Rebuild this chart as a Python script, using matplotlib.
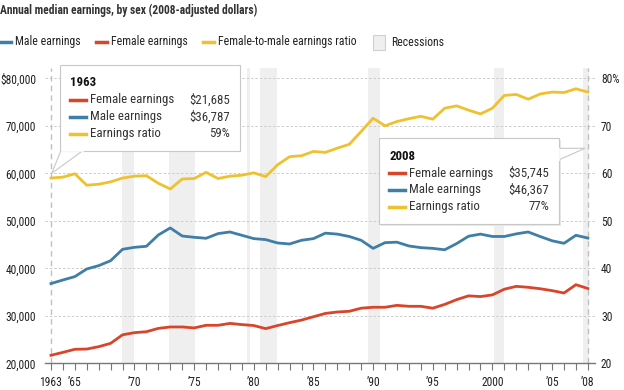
import matplotlib
matplotlib.use("Agg")
import matplotlib.pyplot as plt
from matplotlib import font_manager
from matplotlib.patches import Rectangle, Polygon
from matplotlib.lines import Line2D

years = list(range(1963, 2009))
female = [21685, 22300, 22950, 23000, 23500, 24200, 26000, 26450, 26650, 27350,
          27650, 27650, 27450, 28000, 28000, 28400, 28150, 27950, 27300, 27950,
          28550, 29100, 29800, 30500, 30800, 30950, 31600, 31800, 31800, 32200,
          32000, 32000, 31600, 32400, 33400, 34200, 34050, 34400, 35600, 36200,
          36000, 35700, 35300, 34800, 36550, 35745]
male = [36787, 37540, 38250, 39860, 40560, 41600, 44000, 44420, 44630, 47020,
        48500, 46800, 46530, 46320, 47300, 47650, 46950, 46250, 46040, 45330,
        45120, 45900, 46250, 47400, 47200, 46700, 45900, 44200, 45400, 45500,
        44700, 44350, 44200, 43900, 45200, 46750, 47200, 46700, 46700, 47250,
        47650, 46700, 45800, 45260, 46950, 46367]
ratio = [59.0, 59.2, 59.9, 57.5, 57.7, 58.2, 59.0, 59.4, 59.5, 57.9,
         56.7, 58.8, 58.9, 60.2, 58.9, 59.4, 59.6, 60.1, 59.3, 61.8,
         63.5, 63.7, 64.6, 64.4, 65.3, 66.1, 68.8, 71.6, 70.0, 70.9,
         71.5, 72.0, 71.4, 73.7, 74.2, 73.3, 72.5, 73.7, 76.4, 76.6,
         75.6, 76.7, 77.1, 77.0, 77.8, 77.1]
recessions = [(1968.95, 1969.93), (1972.89, 1975.05), (1979.43, 1979.68),
              (1980.52, 1981.92), (1989.6, 1990.55), (2000.13, 2000.97),
              (2007.57, 2008.12)]
left_ticks = [20000, 30000, 40000, 50000, 60000, 70000, 80000]
left_labels = ["20,000", "30,000", "40,000", "50,000", "60,000", "70,000", "$80,000"]
right_ticks = [20, 30, 40, 50, 60, 70, 80]
right_labels = ["20", "30", "40", "50", "60", "70", "80%"]
xtick_years = [1963, 1965, 1970, 1975, 1980, 1985, 1990, 1995, 2000, 2005, 2008]
xtick_labels = ["1963", "\u201965", "\u201970", "\u201975", "\u201980", "\u201985",
                "\u201990", "\u201995", "2000", "\u201905", "\u201908"]

BLUE = "#3f7ea6"
RED = "#d8452b"
YELLOW = "#efc12f"
GREY_BAND = "#efefef"
TXT = "#222222"

names = {f.name for f in font_manager.fontManager.ttflist}
narrow = "Liberation Sans"
for cand in ["Liberation Sans Narrow", "Roboto Condensed", "Archivo Narrow",
             "IBM Plex Sans Condensed", "Fira Sans Condensed"]:
    if cand in names:
        narrow = cand
        break
plt.rcParams["font.family"] = [narrow, "DejaVu Sans"]

W, H = 624, 390
fig = plt.figure(figsize=(W / 100, H / 100), dpi=100)
renderer = fig.canvas.get_renderer()


def fit(s, target, weight="normal"):
    # font size that makes text s about target pixels wide
    t = fig.text(0, 0, s, fontsize=10, fontweight=weight)
    w = t.get_window_extent(renderer).width
    t.remove()
    return 10 * target / w


fs_title = fit("Annual median earnings, by sex (2008-adjusted dollars)", 259, "bold")
fs_leg = fit("Male earnings", 65)
fs_tip = fit("Female earnings", 83)
fs_tick = fit("$80,000", 36)


def px(x, y):
    return (x / W, 1 - y / H)


ax_l, ax_r, ax_t, ax_b = 45, 595, 68, 363.3
ax = fig.add_axes([ax_l / W, 1 - ax_b / H, (ax_r - ax_l) / W, (ax_b - ax_t) / H])
ax.set_xlim(1962.5, 2008.6)
ax.set_ylim(20000, 82170)
ax2 = ax.twinx()
ax2.set_ylim(20, 82.17)

for s, e in recessions:
    ax.axvspan(s, e, color=GREY_BAND, lw=0, zorder=0)

for t in left_ticks[1:]:
    ax.axhline(t, color="#cccccc", lw=0.7, ls=(0, (2.5, 2)), zorder=1)

ax.axvline(years[0], color="#c0c0c0", lw=1, ls=(0, (4, 3)), zorder=1)
ax.axvline(years[-1], color="#c0c0c0", lw=1, ls=(0, (4, 3)), zorder=1)

ax.plot(years, female, color=RED, lw=2, zorder=3)
ax.plot(years, male, color=BLUE, lw=2, zorder=3)
ax2.plot(years, ratio, color=YELLOW, lw=2, zorder=3)

for a in (ax, ax2):
    for sp in a.spines.values():
        sp.set_visible(False)
ax.spines["bottom"].set_visible(True)
ax.spines["bottom"].set_color("#777777")
ax.spines["bottom"].set_linewidth(1)

ax.set_xticks(years, minor=True)
ax.set_xticks(xtick_years)
ax.set_xticklabels(xtick_labels)
ax.tick_params(axis="x", which="both", direction="out", length=5, width=0.8,
               color="#777777", pad=4, labelsize=fs_tick, labelcolor=TXT)
ax.set_yticks(left_ticks)
ax.set_yticklabels(left_labels)
ax.tick_params(axis="y", length=0, pad=6.5, labelsize=fs_tick, labelcolor=TXT)
ax2.set_yticks(right_ticks)
ax2.set_yticklabels(right_labels)
ax2.tick_params(axis="y", length=0, pad=4.3, labelsize=fs_tick, labelcolor=TXT)

# title
fig.text(*px(0, 10), "Annual median earnings, by sex (2008-adjusted dollars)",
         fontsize=fs_title, fontweight="bold", color="#333333", va="center", ha="left")

# legend
ly = 42
leg_items = [(0, BLUE, "Male earnings"), (96, RED, "Female earnings"),
             (203, YELLOW, "Female-to-male earnings ratio")]
for x0, c, lab in leg_items:
    fig.add_artist(Line2D([x0 / W, (x0 + 11) / W], [1 - ly / H] * 2, color=c, lw=2.5))
    fig.text(*px(x0 + 15, ly), lab, fontsize=fs_leg, color=TXT, va="center", ha="left")
fig.add_artist(Rectangle(px(373, 50), 12 / W, 15 / H, facecolor=GREY_BAND,
                         edgecolor="#d0d0d0", lw=0.8))
fig.text(*px(391, ly), "Recessions", fontsize=fs_leg, color=TXT, va="center", ha="left")


def tooltip(x0, y0, x1, y1, tail, year, rows):
    fig.add_artist(Rectangle(px(x0 + 1.5, y1 + 1.5), (x1 - x0) / W, (y1 - y0) / H,
                             facecolor="#e8e8e8", edgecolor="none", zorder=9))
    fig.add_artist(Polygon([px(*p) for p in tail], closed=True, facecolor="white",
                           edgecolor="#c8c8c8", lw=0.8, zorder=10))
    fig.add_artist(Rectangle(px(x0, y1), (x1 - x0) / W, (y1 - y0) / H,
                             facecolor="white", edgecolor="#c8c8c8", lw=0.8, zorder=10))
    fig.text(*px(x0 + 10, y0 + 18), year, fontsize=fs_tip, fontweight="bold",
             color="#111111", va="center", ha="left", zorder=12)
    for i, (lab, val, c) in enumerate(rows):
        yy = y0 + 35 + i * 16.8
        fig.add_artist(Line2D([(x0 + 10) / W, (x0 + 26) / W], [1 - yy / H] * 2,
                              color=c, lw=2.5, zorder=12))
        fig.text(*px(x0 + 30, yy), lab, fontsize=fs_tip, color="#333333",
                 va="center", ha="left", zorder=12)
        fig.text(*px(x1 - 10, yy), val, fontsize=fs_tip, color="#333333",
                 va="center", ha="right", zorder=12)


rows63 = [("Female earnings", f"${female[0]:,}", RED),
          ("Male earnings", f"${male[0]:,}", BLUE),
          ("Earnings ratio", f"{round(female[0] / male[0] * 100)}%", YELLOW)]
rows08 = [("Female earnings", f"${female[-1]:,}", RED),
          ("Male earnings", f"${male[-1]:,}", BLUE),
          ("Earnings ratio", f"{round(female[-1] / male[-1] * 100)}%", YELLOW)]

tooltip(60, 65, 240, 151, [(61, 150.5), (83, 150.5), (51.7, 173.3)], "1963", rows63)
tooltip(379, 138, 559, 224, [(558.5, 148.3), (585, 148.3), (558.5, 160)], "2008", rows08)
# cover box borders where the tails join
fig.add_artist(Line2D([61.5 / W, 82.5 / W], [1 - 151 / H] * 2, color="white", lw=1.2, zorder=11))
fig.add_artist(Line2D([559 / W, 559 / W], [1 - 148.8 / H, 1 - 159.5 / H], color="white", lw=1.2, zorder=11))

fig.savefig("out.png", dpi=100)
